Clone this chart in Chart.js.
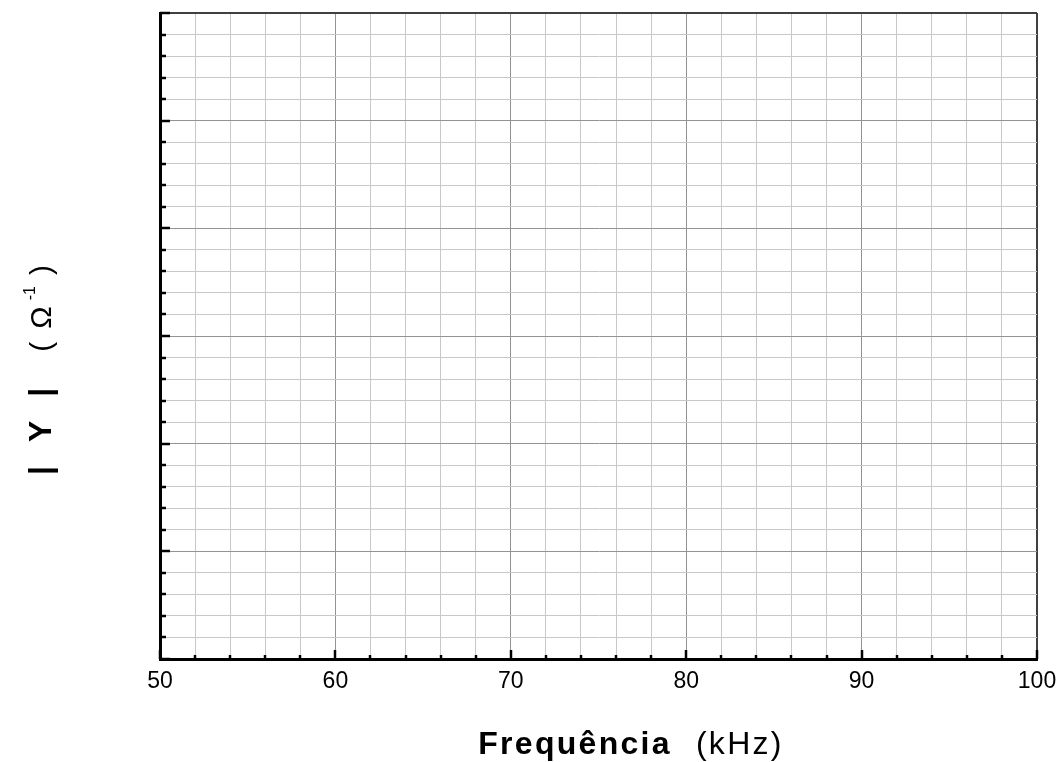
<!DOCTYPE html>
<html>
<head>
<meta charset="utf-8">
<script src="https://cdn.jsdelivr.net/npm/chart.js@4"></script>
<style>
  html, body { margin: 0; padding: 0; background: #ffffff; }
  #c { display: block; }
</style>
</head>
<body>
<canvas id="c" width="1063" height="762"></canvas>
<script>
// ---- data (the reference is an empty grid: no series points) ----
const seriesX = [];
const seriesY = [];
const xMin = 50, xMax = 100, xStep = 2, xLabelEvery = 10;
const yMin = 0, yMax = 30, yStep = 1, yMajorEvery = 5;
const xTitleBold = 'Frequência';
const xTitleUnit = '(kHz)';
const yTitleBold = ['|', 'Y', '|'];
const yTitleUnit = ['(', 'Ω', '-1', ')'];

const FONT = '"Liberation Sans", Arial, sans-serif';
const MINOR = '#c8c8c8';
const MAJOR = '#939393';
const EDGE = '#404040';

const points = seriesX.map((v, i) => ({ x: v, y: seriesY[i] }));

const isMajorX = v => Math.abs(v % xLabelEvery) < 1e-9;
const isMajorY = v => Math.abs(v % yMajorEvery) < 1e-9;

const tickAndTitlePlugin = {
  id: 'tickAndTitle',
  afterDraw(chart) {
    const { ctx, chartArea: a, scales: { x, y } } = chart;
    ctx.save();
    // inward tick marks
    ctx.strokeStyle = '#000';
    ctx.lineWidth = 2.5;
    ctx.lineCap = 'butt';
    x.ticks.forEach(t => {
      const px = Math.round(x.getPixelForValue(t.value));
      const len = isMajorX(t.value) ? 9 : 4;
      ctx.beginPath();
      ctx.moveTo(px, a.bottom);
      ctx.lineTo(px, a.bottom - len);
      ctx.stroke();
    });
    y.ticks.forEach(t => {
      const py = Math.round(y.getPixelForValue(t.value));
      const len = isMajorY(t.value) ? 10 : 6;
      ctx.beginPath();
      ctx.moveTo(a.left, py);
      ctx.lineTo(a.left + len, py);
      ctx.stroke();
    });

    // x axis title
    ctx.fillStyle = '#000';
    ctx.textBaseline = 'alphabetic';
    ctx.textAlign = 'left';
    const boldF = 'bold 32px ' + FONT;
    const normF = '32px ' + FONT;
    ctx.letterSpacing = '2.3px';
    ctx.font = boldF;
    const w1 = ctx.measureText(xTitleBold).width;
    ctx.font = normF;
    const gap = 24;
    const w2 = ctx.measureText(xTitleUnit).width;
    const total = w1 + gap + w2;
    const cx = 631;
    const sx = cx - total / 2;
    const baseY = 754;
    ctx.font = boldF;
    ctx.fillText(xTitleBold, sx, baseY);
    ctx.font = normF;
    ctx.fillText(xTitleUnit, sx + w1 + gap, baseY);

    // y axis title (rotated)
    ctx.letterSpacing = '0px';
    ctx.translate(51, 370);
    ctx.rotate(-Math.PI / 2);
    const segs = [
      { t: yTitleBold[0], f: 'bold 32px ' + FONT, gapAfter: 24 },
      { t: yTitleBold[1], f: 'bold 32px ' + FONT, gapAfter: 24 },
      { t: yTitleBold[2], f: 'bold 32px ' + FONT, gapAfter: 36 },
      { t: yTitleUnit[0], f: '30px ' + FONT, gapAfter: 13 },
      { t: yTitleUnit[1], f: '30px ' + FONT, gapAfter: 6 },
      { t: yTitleUnit[2], f: '16px ' + FONT, gapAfter: 11, sup: true },
      { t: yTitleUnit[3], f: '30px ' + FONT, gapAfter: 0 }
    ];
    let tw = 0;
    segs.forEach(s => { ctx.font = s.f; s.w = ctx.measureText(s.t).width; tw += s.w + s.gapAfter; });
    let px = -tw / 2;
    segs.forEach(s => {
      ctx.font = s.f;
      ctx.fillText(s.t, px, s.sup ? -16 : 0);
      px += s.w + s.gapAfter;
    });
    ctx.restore();
  }
};

new Chart(document.getElementById('c'), {
  type: 'scatter',
  data: {
    datasets: [{
      label: '|Y|',
      data: points,
      borderColor: '#000',
      backgroundColor: '#000',
      showLine: true
    }]
  },
  options: {
    responsive: false,
    animation: false,
    layout: { padding: { left: 0, top: 13, right: 26, bottom: 0 } },
    plugins: { legend: { display: false }, tooltip: { enabled: false } },
    scales: {
      x: {
        type: 'linear',
        min: xMin, max: xMax,
        afterFit(scale) {
          scale.height = 103;
          scale.paddingLeft = 0;
          scale.paddingRight = 0;
        },
        ticks: {
          stepSize: xStep,
          autoSkip: false,
          maxRotation: 0,
          padding: 9,
          color: '#000',
          font: { family: FONT, size: 23 },
          callback: v => isMajorX(v) ? String(v) : ''
        },
        grid: {
          drawTicks: false,
          color: c => {
            const v = c.tick.value;
            if (v === xMin) return 'rgba(0,0,0,0)';
            if (v === xMax) return EDGE;
            return isMajorX(v) ? MAJOR : MINOR;
          },
          lineWidth: c => (c.tick.value === xMax ? 2 : 1)
        },
        border: { display: true, color: '#000', width: 3 }
      },
      y: {
        type: 'linear',
        min: yMin, max: yMax,
        afterFit(scale) { scale.width = 160; },
        ticks: { stepSize: yStep, display: false, autoSkip: false },
        grid: {
          drawTicks: false,
          color: c => {
            const v = c.tick.value;
            if (v === yMin) return 'rgba(0,0,0,0)';
            if (v === yMax) return EDGE;
            return isMajorY(v) ? MAJOR : MINOR;
          },
          lineWidth: c => (c.tick.value === yMax ? 2 : 1)
        },
        border: { display: true, color: '#000', width: 3 }
      }
    }
  },
  plugins: [tickAndTitlePlugin]
});
</script>
</body>
</html>
